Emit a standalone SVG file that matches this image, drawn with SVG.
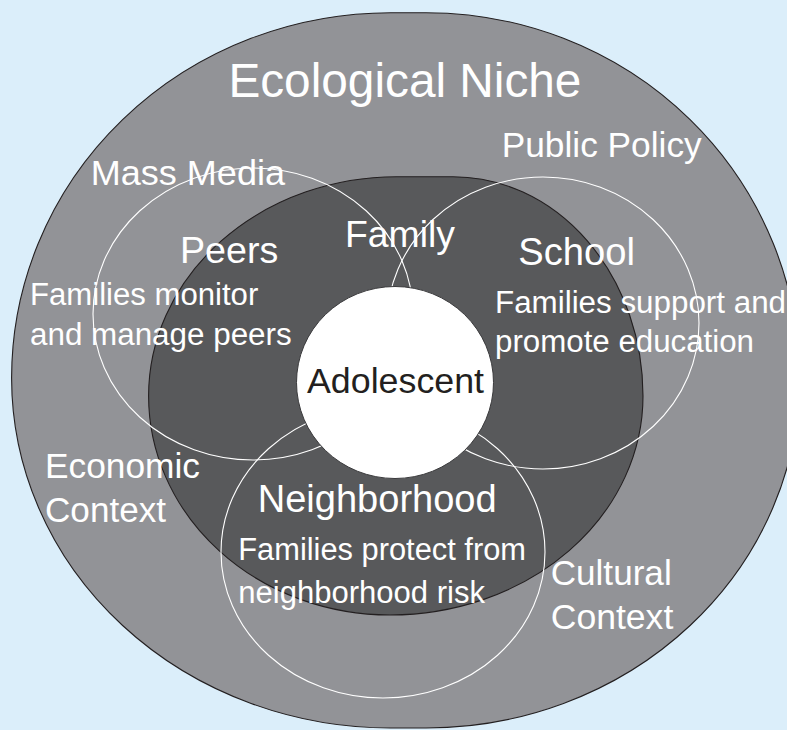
<svg xmlns="http://www.w3.org/2000/svg" width="787" height="730" viewBox="0 0 787 730">
  <style>
    .lbl { font-family: "Liberation Sans", Arial, Helvetica, sans-serif; fill: #ffffff; }
    .dark { fill: #231f20; }
    .ring { fill: none; stroke: #ffffff; stroke-width: 1.1; }
    .edge { stroke: #231f20; stroke-width: 1.1; }
  </style>

  <!-- backdrop -->
  <rect x="0" y="0" width="787" height="730" fill="#dbeefa"/>

  <!-- outer layer: ecological niche -->
  <g id="ecological-niche">
    <path class="edge" fill="#929397" d="M 390.6 12.7 L 426 12.7 A 373.5 365.3 0 0 1 799.5 378 A 373.5 350 0 0 1 426 728 L 390.6 728 A 379 350 0 0 1 11.6 378 A 379 365.3 0 0 1 390.6 12.7 Z"/>
  </g>

  <!-- middle layer: family -->
  <g id="family">
    <path class="edge" fill="#58595b" d="M 396.7 176.7 L 453 176.7 A 190 219.3 0 0 1 643 396 A 253 219 0 0 1 390 615 A 241.4 219 0 0 1 148.6 396 A 248 219.3 0 0 1 396.7 176.7 Z"/>
  </g>

  <!-- overlapping context rings -->
  <g id="peers">
    <ellipse class="ring" cx="253" cy="314" rx="160" ry="146"/>
  </g>
  <g id="school">
    <ellipse class="ring" cx="543" cy="323" rx="156" ry="146"/>
  </g>
  <g id="neighborhood">
    <ellipse class="ring" cx="383" cy="552" rx="162" ry="146"/>
  </g>

  <!-- centre: adolescent -->
  <g id="adolescent">
    <ellipse cx="395" cy="382.5" rx="98.5" ry="96" fill="#ffffff" stroke="#3a3a3c" stroke-width="1"/>
    <text class="lbl dark" x="307" y="393" font-size="35.5" textLength="177" lengthAdjust="spacingAndGlyphs">Adolescent</text>
  </g>

  <!-- connectors (none in this figure) -->
  <g id="connectors"/>

  <!-- labels -->
  <g id="labels">
    <text class="lbl" x="228.4" y="97" font-size="48" textLength="353" lengthAdjust="spacingAndGlyphs">Ecological Niche</text>
    <text class="lbl" x="90.7" y="185" font-size="35.5" textLength="194.3" lengthAdjust="spacingAndGlyphs">Mass Media</text>
    <text class="lbl" x="501.7" y="157.3" font-size="35" textLength="200" lengthAdjust="spacingAndGlyphs">Public Policy</text>

    <text class="lbl" x="180" y="263.3" font-size="37" textLength="98.3" lengthAdjust="spacingAndGlyphs">Peers</text>
    <text class="lbl" x="345" y="246.7" font-size="37" textLength="110" lengthAdjust="spacingAndGlyphs">Family</text>
    <text class="lbl" x="518.3" y="265" font-size="38" textLength="116.7" lengthAdjust="spacingAndGlyphs">School</text>

    <text class="lbl" x="30" y="305" font-size="31" textLength="228.3" lengthAdjust="spacingAndGlyphs">Families monitor</text>
    <text class="lbl" x="30" y="345" font-size="31" textLength="261.7" lengthAdjust="spacingAndGlyphs">and manage peers</text>

    <text class="lbl" x="495" y="313.3" font-size="31" textLength="291" lengthAdjust="spacingAndGlyphs">Families support and</text>
    <text class="lbl" x="495" y="351.7" font-size="31" textLength="259" lengthAdjust="spacingAndGlyphs">promote education</text>

    <text class="lbl" x="45" y="478.3" font-size="35" textLength="155" lengthAdjust="spacingAndGlyphs">Economic</text>
    <text class="lbl" x="45" y="521.7" font-size="35" textLength="121" lengthAdjust="spacingAndGlyphs">Context</text>

    <text class="lbl" x="257.7" y="511.7" font-size="38" textLength="239" lengthAdjust="spacingAndGlyphs">Neighborhood</text>
    <text class="lbl" x="238.3" y="560" font-size="31" textLength="287.7" lengthAdjust="spacingAndGlyphs">Families protect from</text>
    <text class="lbl" x="238.3" y="603.3" font-size="31" textLength="246.7" lengthAdjust="spacingAndGlyphs">neighborhood risk</text>

    <text class="lbl" x="550.7" y="585" font-size="35" textLength="121" lengthAdjust="spacingAndGlyphs">Cultural</text>
    <text class="lbl" x="550.7" y="629" font-size="35" textLength="122.6" lengthAdjust="spacingAndGlyphs">Context</text>
  </g>
</svg>
